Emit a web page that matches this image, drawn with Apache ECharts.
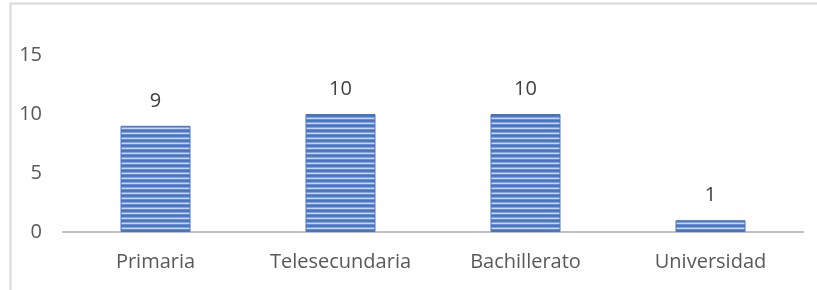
<!DOCTYPE html>
<html><head><meta charset="utf-8">
<script src="https://cdn.jsdelivr.net/npm/echarts@6/dist/echarts.min.js"></script>
<style>html,body{margin:0;padding:0;background:#fff}#c{width:817px;height:290px}</style>
</head><body><div id="c"></div>
<script>
const categories = ['Primaria', 'Telesecundaria', 'Bachillerato', 'Universidad'];
const values = [9, 10, 10, 1];
const yTicks = [0, 5, 10, 15];

const cv = document.createElement('canvas');
cv.width = 4; cv.height = 5;
const cx = cv.getContext('2d');
const rows = ['#4472c4', '#4d79c8', '#86a4dc', '#c8d6f0', '#6a8cd2'];
rows.forEach((c, i) => { cx.fillStyle = c; cx.fillRect(0, i, 4, 1); });

const chart = echarts.init(document.getElementById('c'), null, {renderer: 'canvas'});
const font = '"Open Sans", sans-serif';
chart.setOption({
  animation: false,
  grid: {left: 63, right: 14, top: 55, bottom: 58},
  graphic: [{
    type: 'rect', shape: {x: 10.5, y: 3.5, width: 820, height: 300},
    style: {fill: 'none', stroke: '#d9d9d9', lineWidth: 2}, silent: true
  }],
  xAxis: {
    type: 'category', data: categories,
    axisLine: {lineStyle: {color: '#bfbfbf', width: 2}},
    axisTick: {show: false},
    axisLabel: {color: '#595959', fontSize: 20, fontFamily: font, margin: 20}
  },
  yAxis: {
    type: 'value', min: yTicks[0], max: yTicks[yTicks.length - 1], interval: 5,
    splitLine: {show: false}, axisLine: {show: false}, axisTick: {show: false},
    axisLabel: {color: '#595959', fontSize: 20, fontFamily: font, margin: 21}
  },
  series: [{
    type: 'bar', data: values, barWidth: 70,
    itemStyle: {color: {image: cv, repeat: 'repeat'}, borderColor: '#4a74c4', borderWidth: 1},
    label: {show: true, position: 'top', distance: 15, color: '#404040', fontSize: 20, fontFamily: font}
  }]
});
</script></body></html>
